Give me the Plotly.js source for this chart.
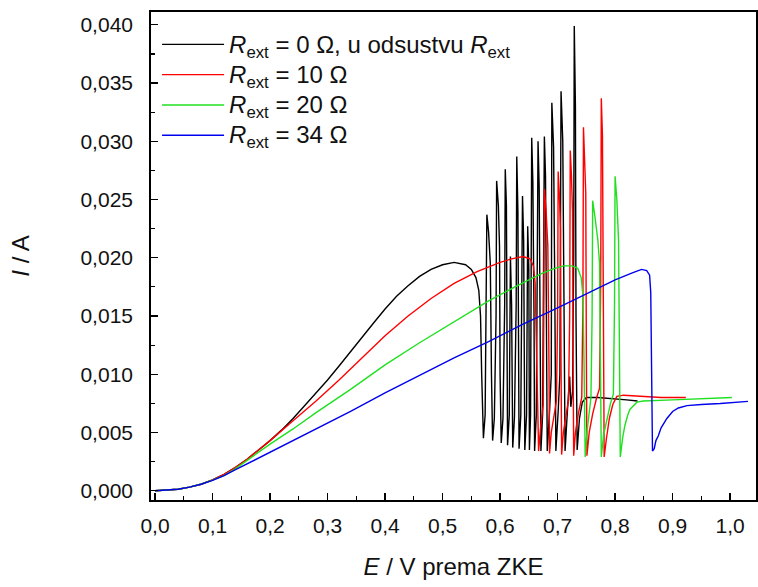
<!DOCTYPE html>
<html>
<head>
<meta charset="utf-8">
<script src="https://cdn.plot.ly/plotly-3.0.1.min.js"></script>
<style>html,body{margin:0;padding:0;background:#fff;}#chart{width:758px;height:587px;}</style>
</head>
<body>
<div id="chart"></div>
<script>
// Series names (legend labels)
const seriesNames = [
  '<i>R</i><sub>ext</sub> = 0 \u03A9, u odsustvu <i>R</i><sub>ext</sub>',
  '<i>R</i><sub>ext</sub> = 10 \u03A9',
  '<i>R</i><sub>ext</sub> = 20 \u03A9',
  '<i>R</i><sub>ext</sub> = 34 \u03A9'
];

// R_ext = 0 ohm (black): potential E / V and current I / A
const E_r0 = [0,0.02,0.04,0.06,0.08,0.10,0.12,0.14,0.16,0.18,0.20,0.22,0.24,0.26,0.28,0.30,0.32,0.34,0.36,0.38,0.40,0.42,0.44,0.46,0.48,0.50,0.52,0.54,0.55,0.558,0.563,0.566,0.568,0.570,
  0.571,0.574,0.576,0.577,0.580,0.583,0.585,
  0.587,0.590,0.593,0.594,0.597,0.599,0.600,
  0.602,0.605,0.608,0.609,0.611,0.612,
  0.613,0.616,0.618,0.620,
  0.622,0.625,0.628,0.629,0.631,
  0.633,0.636,0.639,0.641,
  0.643,0.646,0.648,0.650,
  0.651,0.653,0.655,0.657,0.659,
  0.660,0.663,0.666,0.668,0.670,
  0.671,0.674,0.677,0.679,0.681,
  0.682,0.686,0.689,0.690,0.693,0.695,
  0.697,0.701,0.704,0.706,0.709,0.711,
  0.713,0.717,0.721,0.723,0.726,0.728,0.729,0.731,0.732,
  0.734,0.738,0.743,0.750,0.770,0.800,0.820,0.839];
const I_r0 = [0,0.00003,0.00012,0.00030,0.00055,0.00092,0.0014,0.0020,0.0027,0.0035,0.0043,0.0052,0.0062,0.0073,0.0084,0.0095,0.0107,0.0119,0.0131,0.0144,0.0156,0.0167,0.0176,0.0184,0.0190,0.0194,0.0196,0.0194,0.0190,0.0183,0.0172,0.0150,0.0100,0.0055,
  0.0045,0.0065,0.0150,0.0237,0.0222,0.0195,0.0100,
  0.0043,0.0062,0.0150,0.0266,0.0245,0.0210,0.0100,
  0.0041,0.0062,0.0160,0.0276,0.0245,0.0120,
  0.0039,0.0065,0.0201,0.0160,
  0.0037,0.0063,0.0160,0.0287,0.0240,
  0.0036,0.0065,0.0253,0.0215,
  0.0035,0.0065,0.0227,0.0190,
  0.0035,0.0065,0.0303,0.0265,0.0150,
  0.0034,0.0065,0.0300,0.0260,0.0150,
  0.0034,0.0066,0.0304,0.0270,0.0150,
  0.0034,0.0068,0.0100,0.0333,0.0295,0.0180,
  0.0034,0.0068,0.0100,0.0343,0.0300,0.0170,
  0.0034,0.0068,0.0098,0.0072,0.0085,0.0200,0.0399,0.0330,0.0150,
  0.0035,0.0062,0.0076,0.0080,0.0080,0.0079,0.0078,0.0077];

// R_ext = 10 ohm (red)
const E_r10 = [0,0.02,0.04,0.06,0.08,0.10,0.12,0.14,0.16,0.18,0.20,0.24,0.28,0.32,0.36,0.40,0.44,0.48,0.52,0.56,0.60,0.62,0.64,0.652,0.658,0.661,0.663,0.665,
  0.667,0.670,0.673,0.675,0.676,0.677,0.680,0.683,0.685,
  0.686,0.689,0.693,0.698,0.700,0.701,0.703,0.705,0.706,
  0.707,0.710,0.714,0.719,0.721,0.722,0.724,0.726,0.727,
  0.728,0.731,0.736,0.742,0.744,0.745,0.747,0.749,0.750,
  0.751,0.755,0.761,0.768,0.773,0.775,0.776,0.778,0.780,
  0.781,0.785,0.790,0.796,0.803,0.815,0.840,0.880,0.923];
const I_r10 = [0,0.00003,0.00012,0.00030,0.00055,0.00092,0.0014,0.0020,0.0027,0.0035,0.0043,0.0060,0.0077,0.0095,0.0114,0.0133,0.0150,0.0165,0.0178,0.0188,0.0196,0.0199,0.0201,0.0199,0.0193,0.0178,0.0130,0.0065,
  0.0034,0.0052,0.0064,0.0074,0.0150,0.0259,0.0240,0.0210,0.0110,
  0.0032,0.0050,0.0064,0.0077,0.0150,0.0274,0.0255,0.0225,0.0110,
  0.0031,0.0050,0.0064,0.0078,0.0150,0.0292,0.0272,0.0240,0.0110,
  0.0030,0.0050,0.0066,0.0080,0.0160,0.0312,0.0290,0.0255,0.0120,
  0.0030,0.0050,0.0066,0.0080,0.0088,0.0180,0.0337,0.0305,0.0160,
  0.0029,0.0045,0.0062,0.0074,0.0081,0.0082,0.0081,0.0080,0.0080];

// R_ext = 20 ohm (green)
const E_r20 = [0,0.02,0.04,0.06,0.08,0.10,0.12,0.14,0.16,0.18,0.20,0.24,0.28,0.34,0.40,0.46,0.52,0.58,0.63,0.67,0.69,0.71,0.725,0.735,0.741,0.744,0.746,
  0.748,0.751,0.755,0.758,0.760,0.761,0.765,0.770,0.773,0.775,
  0.776,0.780,0.786,0.792,0.797,0.799,0.800,0.803,0.806,0.808,
  0.809,0.813,0.817,0.822,0.826,0.838,0.849,0.900,0.950,1.003];
const I_r20 = [0,0.00003,0.00012,0.00030,0.00055,0.00090,0.0013,0.0019,0.0026,0.0033,0.0040,0.0053,0.0067,0.0087,0.0108,0.0127,0.0145,0.0163,0.0176,0.0186,0.0190,0.0193,0.0193,0.0191,0.0183,0.0168,0.0110,
  0.0029,0.0050,0.0068,0.0080,0.0150,0.0249,0.0235,0.0215,0.0195,0.0100,
  0.0029,0.0048,0.0063,0.0075,0.0083,0.0160,0.0270,0.0250,0.0215,0.0120,
  0.0029,0.0045,0.0056,0.0065,0.0070,0.0076,0.0077,0.0078,0.0079,0.0080];

// R_ext = 34 ohm (blue)
const E_r34 = [0,0.02,0.04,0.06,0.08,0.10,0.12,0.14,0.16,0.18,0.20,0.24,0.28,0.34,0.40,0.46,0.52,0.58,0.64,0.70,0.757,0.80,0.83,0.846,0.855,0.860,0.862,0.864,
  0.865,0.868,0.871,0.875,0.880,0.890,0.900,0.910,0.925,0.950,0.983,1.031];
const I_r34 = [0,0.00003,0.00012,0.00030,0.00055,0.00088,0.0013,0.0018,0.0023,0.0028,0.0033,0.0043,0.0053,0.0068,0.0084,0.0099,0.0114,0.0128,0.0143,0.0157,0.0171,0.0181,0.0187,0.0190,0.0189,0.0185,0.0170,0.0100,
  0.0034,0.0036,0.0043,0.0047,0.0054,0.0062,0.0068,0.0071,0.0073,0.0074,0.00748,0.00767];

const colors = ['#000000','#ff0000','#1fe01f','#0000ee'];
const xs = [E_r0,E_r10,E_r20,E_r34];
const ys = [I_r0,I_r10,I_r20,I_r34];

const traces = xs.map((x,i)=>({
  x: x, y: ys[i], type:'scatter', mode:'lines',
  name: '<span style="font-size:24px">' + seriesNames[i] + '</span>',
  line:{color:colors[i], width:1.4}
}));

const FONT = '"Liberation Sans", Arial, sans-serif';
const layout = {
  width:758, height:587,
  margin:{l:151, r:2, t:12, b:87},
  paper_bgcolor:'#fff', plot_bgcolor:'#fff',
  separators:', ',
  font:{family:FONT, color:'#111', size:21},
  showlegend:true,
  legend:{x:0.01, y:0.975, xanchor:'left', yanchor:'top', bgcolor:'rgba(0,0,0,0)',
    font:{family:FONT, size:21, color:'#111'}, itemwidth:62, tracegroupgap:0},
  xaxis:{
    range:[-0.007,1.045], tickvals:[0,0.1,0.2,0.3,0.4,0.5,0.6,0.7,0.8,0.9,1.0],
    tickformat:'.1f', ticks:'inside', ticklen:7, tickwidth:1.3, tickcolor:'#000',
    minor:{dtick:0.05, tick0:0, ticks:'inside', ticklen:4, tickwidth:1.2, tickcolor:'#000'},
    showline:true, linecolor:'#000', linewidth:1.8, mirror:true, showgrid:false, zeroline:false,
    ticklabelstandoff:6,
    tickfont:{family:FONT, size:21, color:'#111'},
    title:{text:'<i>E</i> / V prema ZKE', font:{family:FONT, size:24, color:'#111'}, standoff:22}
  },
  yaxis:{
    range:[-0.0008,0.0411], dtick:0.005, tick0:0,
    tickformat:'.3f', ticks:'inside', ticklen:7, tickwidth:1.3, tickcolor:'#000',
    minor:{dtick:0.0025, tick0:0, ticks:'inside', ticklen:4, tickwidth:1.2, tickcolor:'#000'},
    showline:true, linecolor:'#000', linewidth:1.8, mirror:true, showgrid:false, zeroline:false,
    ticklabelstandoff:12,
    tickfont:{family:FONT, size:21, color:'#111'},
    title:{text:'<i>I</i> / A', font:{family:FONT, size:24, color:'#111'}, standoff:44}
  }
};

Plotly.newPlot('chart', traces, layout, {staticPlot:true, displayModeBar:false});
</script>
</body>
</html>
